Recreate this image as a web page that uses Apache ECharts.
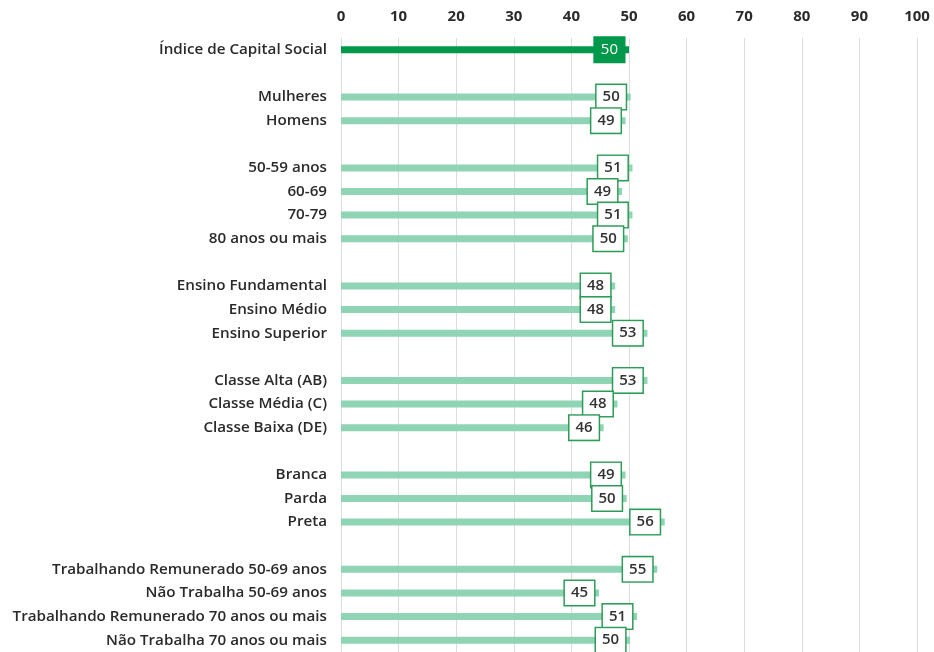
<!DOCTYPE html>
<html>
<head>
<meta charset="utf-8">
<script src="https://cdn.jsdelivr.net/npm/echarts@6/dist/echarts.min.js"></script>
<style>
  html, body { margin: 0; padding: 0; background: #fff; }
  #main { width: 934px; height: 652px; }
</style>
</head>
<body>
<div id="main"></div>
<script>
  // blank entries ('') are the gaps between groups
  var categories = [
    'Índice de Capital Social', '',
    'Mulheres', 'Homens', '',
    '50-59 anos', '60-69', '70-79', '80 anos ou mais', '',
    'Ensino Fundamental', 'Ensino Médio', 'Ensino Superior', '',
    'Classe Alta (AB)', 'Classe Média (C)', 'Classe Baixa (DE)', '',
    'Branca', 'Parda', 'Preta', '',
    'Trabalhando Remunerado 50-69 anos', 'Não Trabalha 50-69 anos',
    'Trabalhando Remunerado 70 anos ou mais', 'Não Trabalha 70 anos ou mais'
  ];
  var values = [
    50.0, null,
    50.3, 49.4, null,
    50.6, 48.8, 50.6, 49.8, null,
    47.6, 47.6, 53.2, null,
    53.2, 48.0, 45.6, null,
    49.4, 49.6, 56.2, null,
    54.9, 44.8, 51.4, 50.2
  ];
  var xTicks = [0, 10, 20, 30, 40, 50, 60, 70, 80, 90, 100];

  var dark = '#00984b';
  var light = '#8fd4b5';
  var font = 'Open Sans';

  var barData = values.map(function (v, i) {
    if (v === null) return '-';
    if (i === 0) {
      return {
        value: v,
        itemStyle: { color: dark },
        label: {
          color: '#fff',
          backgroundColor: dark,
          borderColor: dark,
          fontWeight: 'normal'
        }
      };
    }
    return v;
  });

  var chart = echarts.init(document.getElementById('main'));
  chart.setOption({
    animation: false,
    grid: { left: 341, right: 17, top: 38, height: 618 },
    xAxis: {
      type: 'value',
      position: 'top',
      min: xTicks[0],
      max: xTicks[xTicks.length - 1],
      interval: 10,
      axisLine: { show: false },
      axisTick: { show: false },
      axisLabel: {
        margin: 14,
        fontFamily: font,
        fontSize: 15,
        fontWeight: 'bold',
        color: '#2a2a2a'
      },
      splitLine: { lineStyle: { color: '#dcdcdc', width: 1 } }
    },
    yAxis: {
      type: 'category',
      inverse: true,
      data: categories,
      axisLine: { show: false },
      axisTick: { show: false },
      axisLabel: {
        margin: 14,
        fontFamily: font,
        fontSize: 15.2,
        fontWeight: 600,
        color: '#2a2a2a'
      }
    },
    series: [{
      type: 'bar',
      data: barData,
      barWidth: 7,
      itemStyle: { color: light },
      label: {
        show: true,
        position: 'insideRight',
        distance: 5,
        formatter: function (p) { return Math.round(p.value); },
        fontFamily: font,
        fontSize: 15,
        fontWeight: 600,
        color: '#333',
        backgroundColor: '#fff',
        borderColor: '#2e9c58',
        borderWidth: 1.5,
        padding: [3, 6, 3, 6],
        lineHeight: 18
      }
    }]
  });
</script>
</body>
</html>
